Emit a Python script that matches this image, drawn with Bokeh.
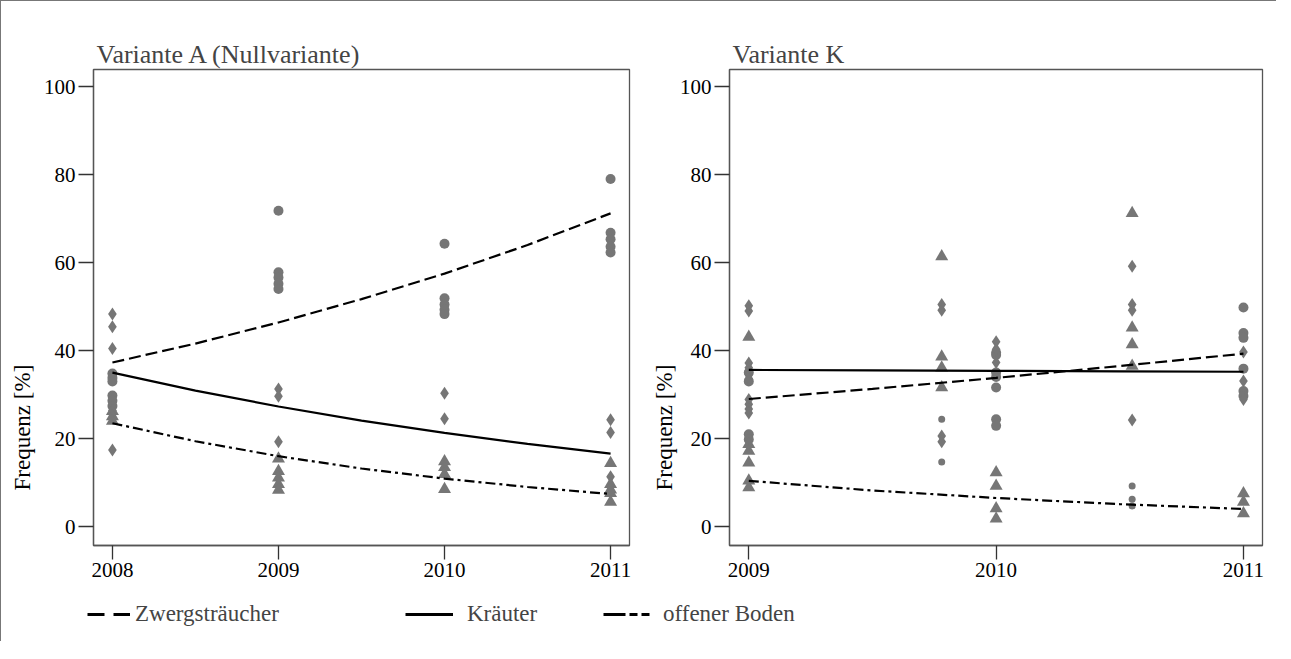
from bokeh.plotting import figure
from bokeh.models import FixedTicker, Legend, LegendItem, Title
from bokeh.layouts import row, column
from bokeh.embed import file_html
from bokeh.resources import INLINE

FONT = "Liberation Serif"
GRAY = "#767676"

# ---------------- Variante A (Nullvariante) ----------------
A_ticks = [2008, 2009, 2010, 2011]
# Zwergsträucher (circles)
A_zw_x = [2008] * 6 + [2009] * 5 + [2010] * 5 + [2011] * 5
A_zw_y = [34.8, 33.8, 33.0, 29.8, 28.6, 27.4,
          71.8, 57.8, 56.6, 55.2, 54.0,
          64.3, 51.9, 50.5, 49.3, 48.3,
          79.0, 66.8, 65.3, 63.6, 62.3]
# Kräuter (diamonds)
A_kr_x = [2008] * 5 + [2009] * 3 + [2010] * 2 + [2011] * 3
A_kr_y = [48.3, 45.4, 40.5, 26.4, 17.4,
          31.3, 29.6, 19.3,
          30.3, 24.5,
          24.3, 21.4, 11.3]
# offener Boden (triangles)
A_ob_x = [2008] * 3 + [2009] * 5 + [2010] * 4 + [2011] * 5
A_ob_y = [26.2, 25.0, 24.0,
          15.4, 12.6, 11.1, 9.6, 8.3,
          14.8, 13.5, 11.9, 8.5,
          14.4, 9.6, 8.4, 7.6, 5.6]
# fitted curves (read at half-year steps)
A_fit_x = [2008, 2008.5, 2009, 2009.5, 2010, 2010.5, 2011]
A_fit_zw = [37.3, 41.6, 46.4, 51.7, 57.5, 64.0, 71.2]
A_fit_kr = [35.0, 30.9, 27.3, 24.1, 21.3, 18.8, 16.6]
A_fit_ob = [23.5, 19.4, 16.0, 13.2, 10.9, 9.0, 7.4]

# ---------------- Variante K ----------------
K_ticks = [2009, 2010, 2011]
K_zw_x = [2009] * 4 + [2010] * 7 + [2011] * 6
K_zw_y = [35.0, 33.0, 21.0, 19.8,
          39.5, 39.0, 35.0, 34.0, 31.6, 24.4, 22.9,
          49.8, 44.0, 42.9, 35.9, 30.8, 29.7]
K_zw_small_x = [2009.78] * 2 + [2010.55] * 3
K_zw_small_y = [24.4, 14.7, 9.2, 6.2, 4.7]
K_kr_x = [2009] * 10 + [2009.78] * 4 + [2010] * 3 + [2010.55] * 4 + [2011] * 3
K_kr_y = [50.2, 49.0, 37.2, 36.1, 34.6, 33.6, 28.9, 27.8, 26.7, 25.8,
          50.5, 49.2, 20.6, 19.3,
          42.0, 40.3, 37.3,
          59.2, 50.5, 49.2, 24.2,
          39.7, 33.1, 28.9]
K_ob_x = [2009] * 6 + [2009.78] * 4 + [2010] * 4 + [2010.55] * 4 + [2011] * 3
K_ob_y = [43.1, 18.7, 17.2, 14.5, 10.4, 8.9,
          61.4, 38.6, 36.1, 31.6,
          12.3, 9.2, 4.1, 1.8,
          71.2, 45.2, 41.4, 36.5,
          7.5, 5.6, 3.0]
K_fit_x = [2009, 2009.5, 2010, 2010.5, 2011]
K_fit_zw = [29.0, 31.3, 33.8, 36.5, 39.3]
K_fit_kr = [35.6, 35.5, 35.4, 35.3, 35.2]
K_fit_ob = [10.4, 8.2, 6.5, 5.1, 4.0]

Y_TICKS = [0, 20, 40, 60, 80, 100]
LEG_LABELS = ["Zwergsträucher", "Kräuter", "offener Boden"]
Y_LABEL = "Frequenz [%]"

DASH = "12 5"
DASHDOT = "10 4 3 4"


def panel(title, x_range, ticks, frame_w, mb_left, mb_right, ylab_standoff):
    p = figure(frame_width=frame_w, frame_height=476, x_range=x_range,
               y_range=(-4.3, 103.9), toolbar_location=None,
               output_backend="svg", min_border_left=mb_left,
               min_border_right=mb_right, min_border_top=68,
               min_border_bottom=47, background_fill_color="white",
               border_fill_color="white", outline_line_color="#555555",
               outline_line_width=1.3)
    p.title.text = title
    p.title.text_font = FONT
    p.title.text_font_size = "26px"
    p.title.text_font_style = "normal"
    p.title.offset = 3
    p.title.standoff = 1
    p.grid.visible = False
    for ax in (p.xaxis[0], p.yaxis[0]):
        ax.major_label_text_font = FONT
        ax.major_label_text_font_size = "21px"
        ax.major_label_text_color = "black"
        ax.axis_line_color = "#555555"
        ax.axis_line_width = 1.3
        ax.major_tick_line_color = "#333333"
        ax.major_tick_line_width = 1.3
        ax.major_tick_in = 0
        ax.minor_tick_line_color = None
        ax.major_label_standoff = 3
    p.xaxis[0].ticker = FixedTicker(ticks=ticks)
    p.xaxis[0].major_tick_out = 14
    p.yaxis[0].ticker = FixedTicker(ticks=Y_TICKS)
    p.yaxis[0].major_tick_out = 15
    # y-axis title: a side title, anchored low on the axis like the original
    p.add_layout(Title(text=Y_LABEL, align="left", offset=55,
                       standoff=ylab_standoff, text_font=FONT,
                       text_font_size="23px", text_font_style="normal",
                       text_color="black"), "left")
    return p


p1 = panel("Variante A (Nullvariante)", (2007.886, 2011.114), A_ticks, 536, 92, 13, 12)
p1.scatter(A_zw_x, A_zw_y, marker="circle", size=10, fill_color=GRAY, line_color=None)
p1.scatter(A_kr_x, A_kr_y, marker="diamond", size=13, fill_color=GRAY, line_color=None)
p1.scatter(A_ob_x, A_ob_y, marker="triangle", size=13, fill_color=GRAY, line_color=None)
p1.line(A_fit_x, A_fit_zw, line_color="black", line_width=2.2, line_dash=DASH)
p1.line(A_fit_x, A_fit_kr, line_color="black", line_width=2.2)
p1.line(A_fit_x, A_fit_ob, line_color="black", line_width=2.2, line_dash=DASHDOT)

p2 = panel("Variante K", (2008.922, 2011.077), K_ticks, 533, 87, 12, 0)
p2.scatter(K_zw_x, K_zw_y, marker="circle", size=10, fill_color=GRAY, line_color=None)
p2.scatter(K_zw_small_x, K_zw_small_y, marker="circle", size=7, fill_color=GRAY, line_color=None)
p2.scatter(K_kr_x, K_kr_y, marker="diamond", size=13, fill_color=GRAY, line_color=None)
p2.scatter(K_ob_x, K_ob_y, marker="triangle", size=13, fill_color=GRAY, line_color=None)
p2.line(K_fit_x, K_fit_zw, line_color="black", line_width=2.2, line_dash=DASH)
p2.line(K_fit_x, K_fit_kr, line_color="black", line_width=2.2)
p2.line(K_fit_x, K_fit_ob, line_color="black", line_width=2.2, line_dash=DASHDOT)

# legend strip (dummy renderers lie outside the visible range)
p3 = figure(width=1275, height=49, toolbar_location=None, output_backend="svg",
            x_range=(0, 1), y_range=(0, 1), x_axis_location=None,
            y_axis_location=None, outline_line_color=None, min_border=0,
            background_fill_color="white", border_fill_color="white")
p3.grid.visible = False
r1 = p3.line([5, 6], [5, 5], line_color="black", line_width=3, line_dash="17 9")
r2 = p3.line([5, 6], [5, 5], line_color="black", line_width=3)
r3 = p3.line([5, 6], [5, 5], line_color="black", line_width=3, line_dash="22 4 8 4 8 4")
leg_specs = [(86, 43, 5), (404, 48, 14), (602, 49, 11)]
for lab, r, (xloc, gw, so) in zip(LEG_LABELS, [r1, r2, r3], leg_specs):
    leg = Legend(items=[LegendItem(label=lab, renderers=[r])], location=(xloc, 14),
                 orientation="horizontal", padding=0, margin=0,
                 border_line_color=None, background_fill_alpha=0,
                 glyph_width=gw, glyph_height=22, label_standoff=so,
                 label_text_font=FONT, label_text_font_size="23px",
                 label_height=22)
    p3.add_layout(leg)

layout = column(row(p1, p2), p3,
                styles={"border-top": "1px solid #777777",
                        "border-left": "1px solid #777777",
                        "background-color": "white"})

open("out.html", "w").write(file_html(layout, INLINE))
